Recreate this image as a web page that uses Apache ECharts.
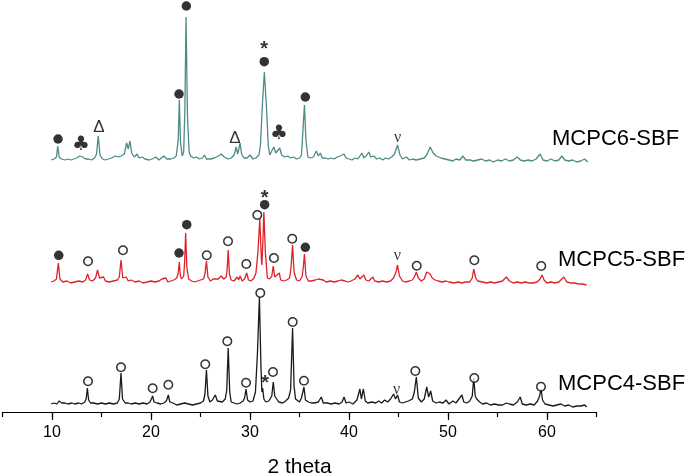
<!DOCTYPE html>
<html><head><meta charset="utf-8">
<script src="https://cdn.jsdelivr.net/npm/echarts@6/dist/echarts.min.js"></script>
<style>html,body{margin:0;padding:0;background:#fff;overflow:hidden}#c{width:688px;height:476px}</style>
</head><body><div id="c"></div>
<script>
// 2-theta tick labels
var xTickLabels = [10, 20, 30, 40, 50, 60];
var seriesNames = ['MCPC6-SBF', 'MCPC5-SBF', 'MCPC4-SBF'];
var seriesOffsets = [252, 130, 8];
// intensities (arbitrary units) above each trace's own baseline, [2theta, I]
var mcpc6 = [[9.9,0],[10.2,1],[10.45,3],[10.58,14],[10.72,3],[10.95,1],[11.3,0],[11.6,1],[11.9,0],[12.2,1],[12.5,2],[12.8,4],[12.95,6],[13.1,3],[13.4,1],[13.7,1],[14.0,0],[14.3,2],[14.5,6],[14.67,24],[14.85,5],[15.1,1],[15.4,0],[15.7,1],[16.0,2],[16.4,4],[16.7,3],[17.0,4],[17.3,6],[17.54,17],[17.7,11],[17.88,19],[18.05,7],[18.3,3],[18.6,6],[18.8,2],[19.1,3],[19.4,1],[19.8,0],[20.1,1],[20.5,3],[20.8,0],[21.0,1],[21.3,4],[21.6,1],[22.0,1],[22.3,2],[22.55,4],[22.75,20],[22.86,60],[22.98,18],[23.15,4],[23.3,8],[23.42,50],[23.54,143],[23.68,45],[23.85,8],[24.0,4],[24.3,2],[24.6,3],[24.9,1],[25.2,2],[25.4,5],[25.6,1],[26.0,1],[26.4,2],[26.8,4],[27.1,6],[27.4,3],[27.8,1],[28.1,2],[28.4,5],[28.6,13],[28.75,6],[28.85,10],[29.0,17],[29.15,6],[29.4,2],[29.7,2],[30.0,5],[30.3,1],[30.6,2],[30.9,5],[31.05,14],[31.25,55],[31.45,88],[31.65,55],[31.85,14],[32.0,5],[32.2,6],[32.4,13],[32.6,7],[32.8,8],[33.0,12],[33.2,5],[33.5,3],[33.8,4],[34.1,2],[34.4,3],[34.7,1],[35.0,2],[35.2,5],[35.35,30],[35.5,55],[35.65,20],[35.85,3],[36.1,2],[36.4,3],[36.7,9],[36.9,4],[37.1,7],[37.3,2],[37.6,2],[37.9,1],[38.2,2],[38.5,1],[38.8,3],[39.1,4],[39.3,3],[39.5,6],[39.7,2],[40.0,1],[40.3,0],[40.6,2],[40.9,1],[41.1,3],[41.3,7],[41.5,2],[41.8,5],[42.0,8],[42.2,3],[42.5,4],[42.8,1],[43.1,2],[43.4,0],[43.7,2],[44.0,1],[44.3,3],[44.6,6],[44.9,15],[45.15,5],[45.4,1],[45.8,3],[46.1,0],[46.4,1],[46.8,0],[47.2,1],[47.6,2],[47.9,6],[48.2,13],[48.5,7],[48.8,4],[49.0,5],[49.3,2],[49.7,1],[50.1,0],[50.5,-1],[50.8,1],[51.2,0],[51.5,4],[51.8,0],[52.2,0],[52.6,-1],[53.0,0],[53.4,1],[53.8,-1],[54.2,0],[54.6,-2],[55.0,0],[55.4,-1],[55.8,1],[56.2,-1],[56.6,0],[57.0,3],[57.3,0],[57.7,-1],[58.1,0],[58.5,-1],[58.9,1],[59.3,6],[59.6,0],[60.0,-1],[60.4,1],[60.8,-1],[61.2,0],[61.5,4],[61.8,0],[62.2,-1],[62.6,0],[63.0,-2],[63.4,-1],[63.8,1],[64.1,-2]];
var mcpc5 = [[9.9,0],[10.2,1],[10.45,3],[10.64,19],[10.8,3],[11.1,0],[11.5,1],[11.9,-1],[12.3,0],[12.7,1],[13.1,0],[13.4,2],[13.6,8],[13.8,2],[14.1,1],[14.4,4],[14.6,12],[14.8,4],[15.0,2],[15.2,5],[15.4,1],[15.8,0],[16.2,1],[16.6,2],[16.8,5],[16.97,22],[17.15,4],[17.35,2],[17.5,5],[17.7,1],[18.0,2],[18.4,0],[18.8,1],[19.2,-1],[19.6,0],[20.0,1],[20.2,3],[20.4,0],[20.8,1],[21.1,3],[21.3,1],[21.5,4],[21.7,0],[22.0,1],[22.3,2],[22.6,4],[22.75,9],[22.86,20],[22.97,6],[23.1,3],[23.3,6],[23.4,20],[23.5,49],[23.62,15],[23.8,3],[24.1,1],[24.4,0],[24.7,1],[25.0,2],[25.3,3],[25.45,8],[25.6,21],[25.75,5],[26.0,1],[26.3,3],[26.5,1],[26.8,3],[27.1,6],[27.35,3],[27.6,5],[27.7,14],[27.8,32],[27.92,8],[28.1,2],[28.4,1],[28.7,5],[28.85,2],[29.0,6],[29.2,1],[29.45,3],[29.67,9],[29.85,2],[30.1,1],[30.4,4],[30.6,9],[30.8,30],[30.99,63],[31.15,22],[31.2,17],[31.3,40],[31.4,70],[31.55,30],[31.75,4],[32.0,3],[32.2,6],[32.35,16],[32.5,5],[32.7,4],[32.96,9],[33.1,2],[33.4,1],[33.7,2],[34.0,4],[34.15,15],[34.3,37],[34.45,10],[34.7,2],[35.0,1],[35.25,5],[35.38,14],[35.5,28],[35.65,6],[35.9,1],[36.2,1],[36.6,2],[36.9,3],[37.1,5],[37.4,2],[37.7,0],[38.1,1],[38.5,0],[38.9,1],[39.2,2],[39.6,1],[39.9,0],[40.2,1],[40.6,3],[40.9,7],[41.1,3],[41.3,4],[41.5,7],[41.7,2],[42.0,1],[42.4,5],[42.6,1],[43.0,0],[43.4,1],[43.8,0],[44.2,1],[44.5,4],[44.75,10],[44.9,17],[45.1,6],[45.4,1],[45.7,0],[46.1,1],[46.4,2],[46.6,5],[46.8,10],[47.0,4],[47.3,1],[47.6,3],[47.85,10],[48.0,12],[48.2,8],[48.4,4],[48.7,2],[49.0,1],[49.4,0],[49.8,1],[50.1,0],[50.3,2],[50.6,-1],[51.0,0],[51.4,-1],[51.8,0],[52.2,0],[52.45,4],[52.6,13],[52.8,4],[53.0,1],[53.2,3],[53.5,0],[53.9,-1],[54.3,0],[54.7,-1],[55.1,0],[55.5,1],[55.9,5],[56.2,1],[56.6,-1],[57.0,0],[57.4,-1],[57.8,0],[58.2,-1],[58.6,-1],[59.0,0],[59.3,3],[59.5,7],[59.7,2],[60.0,-1],[60.4,0],[60.8,-1],[61.2,0],[61.7,5],[62.0,0],[62.4,-1],[62.8,-1],[63.2,-2],[63.6,-2],[64.0,-3]];
var mcpc4 = [[9.9,0],[10.2,1],[10.5,0],[10.7,3],[10.85,4],[11.0,1],[11.3,1],[11.6,0],[12.0,1],[12.3,0],[12.7,1],[13.0,0],[13.3,2],[13.45,5],[13.57,16],[13.7,4],[13.9,1],[14.0,3],[14.2,1],[14.6,0],[15.0,1],[15.4,0],[15.8,1],[16.2,0],[16.6,1],[16.8,5],[16.97,31],[17.12,5],[17.4,1],[17.7,1],[18.0,0],[18.4,1],[18.8,0],[19.2,1],[19.6,0],[19.9,2],[20.05,4],[20.17,8],[20.3,2],[20.6,1],[21.0,0],[21.3,1],[21.55,3],[21.75,9],[21.9,2],[22.2,1],[22.6,-1],[23.0,0],[23.4,1],[23.8,0],[24.2,-1],[24.6,0],[25.0,1],[25.3,3],[25.45,10],[25.6,34],[25.75,8],[25.95,2],[26.2,4],[26.5,9],[26.7,3],[26.9,1],[27.2,2],[27.5,5],[27.65,14],[27.8,56],[27.95,12],[28.1,2],[28.4,1],[28.7,0],[29.0,1],[29.3,3],[29.45,6],[29.6,15],[29.75,4],[30.0,2],[30.3,3],[30.55,12],[30.75,50],[30.95,107],[31.1,40],[31.2,12],[31.28,16],[31.4,5],[31.6,2],[31.9,3],[32.2,8],[32.35,22],[32.5,8],[32.7,6],[32.9,2],[33.1,3],[33.3,1],[33.6,3],[33.9,6],[34.1,14],[34.3,76],[34.45,18],[34.6,5],[34.8,4],[35.0,2],[35.2,6],[35.45,17],[35.6,4],[35.9,2],[36.2,1],[36.5,1],[36.9,2],[37.2,7],[37.4,1],[37.6,3],[37.8,1],[38.2,0],[38.6,1],[39.0,0],[39.3,2],[39.5,7],[39.7,1],[40.0,2],[40.4,0],[40.8,4],[41.1,15],[41.25,5],[41.45,15],[41.65,3],[41.9,1],[42.3,2],[42.7,1],[43.0,3],[43.3,1],[43.6,4],[43.9,2],[44.2,5],[44.5,10],[44.7,5],[44.9,9],[45.1,2],[45.4,1],[45.7,2],[46.0,3],[46.4,5],[46.6,12],[46.8,27],[47.0,6],[47.3,2],[47.6,5],[47.85,17],[48.05,7],[48.25,13],[48.45,3],[48.8,1],[49.1,2],[49.5,1],[49.8,4],[50.1,0],[50.5,3],[50.8,1],[51.1,5],[51.4,9],[51.6,2],[51.9,1],[52.2,3],[52.45,8],[52.6,26],[52.75,8],[52.9,5],[53.2,2],[53.5,0],[53.9,1],[54.3,-1],[54.7,0],[55.1,-1],[55.5,-1],[55.9,1],[56.2,0],[56.6,-1],[57.0,2],[57.3,7],[57.5,0],[57.9,-1],[58.3,0],[58.7,-1],[59.05,3],[59.25,8],[59.4,15],[59.55,4],[59.8,0],[60.2,-1],[60.6,-2],[61.0,-1],[61.4,0],[61.8,-2],[62.2,-1],[62.6,-3],[63.0,-2],[63.4,-2],[63.8,-1],[64.0,-3]];
// phase markers, [2theta, absolute plotted height]
var filledCircles = [[10.61,273],[22.83,318],[23.57,406],[31.44,350.3],[35.59,315],
  [10.68,156.7],[22.83,159],[23.61,187.3],[31.48,207.3],[35.59,164.7]];
var openCircles = [[13.64,150.7],[17.17,161.7],[25.63,156.7],[27.78,170.7],[29.63,148],[30.74,197],[32.42,154],[34.27,173.3],[46.84,146.3],[52.66,151.7],[59.42,146],
  [13.64,30.7],[16.97,44.7],[20.17,23.7],[21.75,27.3],[25.48,47.7],[27.71,70.7],[29.6,29.3],[31.04,119],[32.32,40],[34.31,90],[35.45,31.3],[46.7,41],[52.66,34],[59.39,25.3]];
var stars = [[31.44,368],[31.48,219],[31.52,33.3]];
var clubs = [[12.93,267],[32.93,278]];
var deltas = [[14.75,285],[28.48,274]];
var nus = [[44.92,274],[44.88,156],[44.82,22.5]];

var colors = ['#4d8b87', '#dd2229', '#1a1a1a'];
var traces = [mcpc6, mcpc5, mcpc4];
var chart = echarts.init(document.getElementById('c'));
var series = traces.map(function (d, i) {
  return {
    type: 'line', name: seriesNames[i], showSymbol: false, symbol: 'none',
    lineStyle: { color: colors[i], width: 1.3 }, z: 2,
    data: d.map(function (p) { return [p[0], p[1] + seriesOffsets[i]]; })
  };
});
function glyph(data, ch, font, size, off, weight) {
  return {
    type: 'scatter', data: data, symbol: 'circle', symbolSize: 1, z: 5,
    itemStyle: { color: 'rgba(0,0,0,0)' },
    label: { show: true, position: 'inside', formatter: ch, color: '#000',
      fontFamily: font, fontSize: size, fontWeight: weight || 'normal', offset: off || [0, 0] }
  };
}
series.push({ type: 'scatter', data: filledCircles, symbol: 'circle', symbolSize: 9.5, z: 5,
  itemStyle: { color: '#000' } });
series.push({ type: 'scatter', data: openCircles, symbol: 'circle', symbolSize: 8.5, z: 5,
  itemStyle: { color: '#fff', borderColor: '#000', borderWidth: 1.5 } });
series.push(glyph(stars, '*', 'Liberation Sans', 20, [0, 5], 'bold'));
series.push(glyph(clubs, '♣', 'DejaVu Sans', 20));
series.push(glyph(deltas, 'Δ', 'Liberation Sans', 17));
series.push(glyph(nus, 'ν', 'Liberation Serif', 16));

var labelFont = '22px "Liberation Sans", Arial, sans-serif';
chart.setOption({
  animation: false,
  backgroundColor: '#fff',
  grid: { left: 2.5, right: 91.5, top: 0, bottom: 64, containLabel: false, outerBoundsMode: 'none' },
  xAxis: [{
    type: 'value', min: 5, max: 65, interval: 5,
    axisLine: { show: true, lineStyle: { color: '#000', width: 1.2 } },
    axisTick: { show: true, length: 5, lineStyle: { color: '#000', width: 1.2 } },
    axisLabel: { show: false }, splitLine: { show: false },
    name: '2 theta', nameLocation: 'middle', nameGap: 45,
    nameTextStyle: { fontFamily: 'Liberation Sans', fontSize: 21, color: '#000' }
  }, {
    type: 'value', min: 5, max: 65, position: 'bottom',
    axisLine: { show: false },
    axisTick: { show: true, length: 8, customValues: xTickLabels, lineStyle: { color: '#000', width: 1.2 } },
    axisLabel: { show: true, customValues: xTickLabels, margin: 13, fontFamily: 'Liberation Sans', fontSize: 16, color: '#000' },
    splitLine: { show: false }
  }],
  yAxis: { type: 'value', min: 0, max: 412, show: false },
  series: series,
  graphic: [
    { type: 'text', left: 552, top: 128, style: { text: seriesNames[0], font: labelFont, fill: '#000' } },
    { type: 'text', left: 558, top: 249, style: { text: seriesNames[1], font: labelFont, fill: '#000' } },
    { type: 'text', left: 558, top: 373, style: { text: seriesNames[2], font: labelFont, fill: '#000' } }
  ]
});
</script></body></html>
